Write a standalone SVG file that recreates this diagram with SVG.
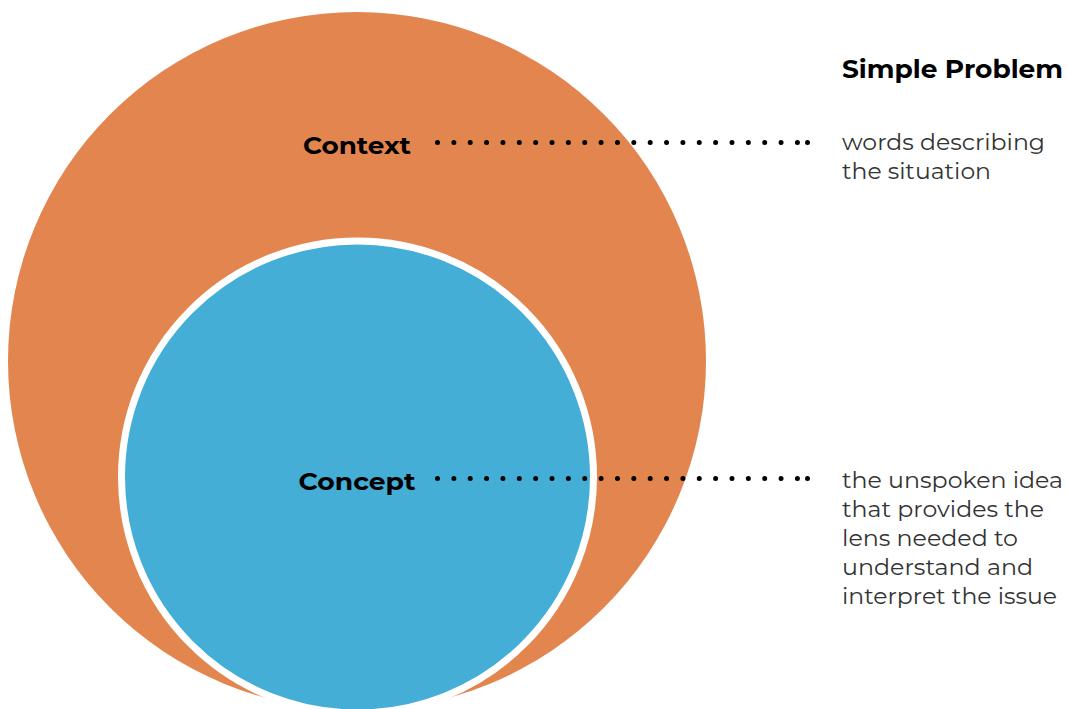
<svg xmlns="http://www.w3.org/2000/svg" width="1067" height="709" viewBox="0 0 1067 709">
  <style>
    .title { font-family: "Montserrat", "Open Sans", "Liberation Sans", sans-serif; font-weight: 700; fill: #000; }
    .label { font-family: "Montserrat", "Open Sans", "Liberation Sans", sans-serif; font-weight: 700; font-size: 24px; fill: #000; text-anchor: middle; }
    .desc { font-family: "Montserrat", "Open Sans", "Liberation Sans", sans-serif; font-weight: 400; font-size: 22px; fill: #333; }
    .dots { fill: none; stroke: #000; stroke-width: 5; stroke-linecap: round; stroke-dasharray: 0 16.36; }
    .dot { fill: #000; }
  </style>
  <rect width="1067" height="709" fill="#fff"/>

  <!-- outer circle: context -->
  <g id="context">
    <circle cx="357" cy="361" r="349" fill="#E3854E"/>
    <text class="label" x="357" y="154" textLength="108" lengthAdjust="spacingAndGlyphs">Context</text>
  </g>

  <!-- inner circle: concept -->
  <g id="concept">
    <circle cx="357.5" cy="477" r="236" fill="#44AED6" stroke="#fff" stroke-width="7"/>
    <text class="label" x="357" y="490" textLength="117" lengthAdjust="spacingAndGlyphs">Concept</text>
  </g>

  <!-- dotted leaders -->
  <g id="connectors">
    <path class="dots" d="M437.5 142.5 H797.5"/>
    <circle class="dot" cx="807.5" cy="142.5" r="2.5"/>
    <path class="dots" d="M437.5 478.5 H797.5"/>
    <circle class="dot" cx="807.5" cy="478.5" r="2.5"/>
  </g>

  <g id="heading">
    <text class="title" x="842" y="78" font-size="25" textLength="221" lengthAdjust="spacingAndGlyphs">Simple Problem</text>
  </g>

  <g id="context-note">
    <text class="desc" x="842" y="150" textLength="203" lengthAdjust="spacingAndGlyphs">words describing</text>
    <text class="desc" x="842" y="179" textLength="149" lengthAdjust="spacingAndGlyphs">the situation</text>
  </g>

  <g id="concept-note">
    <text class="desc" x="842" y="488" textLength="221" lengthAdjust="spacingAndGlyphs">the unspoken idea</text>
    <text class="desc" x="842" y="517" textLength="202" lengthAdjust="spacingAndGlyphs">that provides the</text>
    <text class="desc" x="842" y="546" textLength="176" lengthAdjust="spacingAndGlyphs">lens needed to</text>
    <text class="desc" x="842" y="575" textLength="191" lengthAdjust="spacingAndGlyphs">understand and</text>
    <text class="desc" x="842" y="604" textLength="215" lengthAdjust="spacingAndGlyphs">interpret the issue</text>
  </g>
</svg>
